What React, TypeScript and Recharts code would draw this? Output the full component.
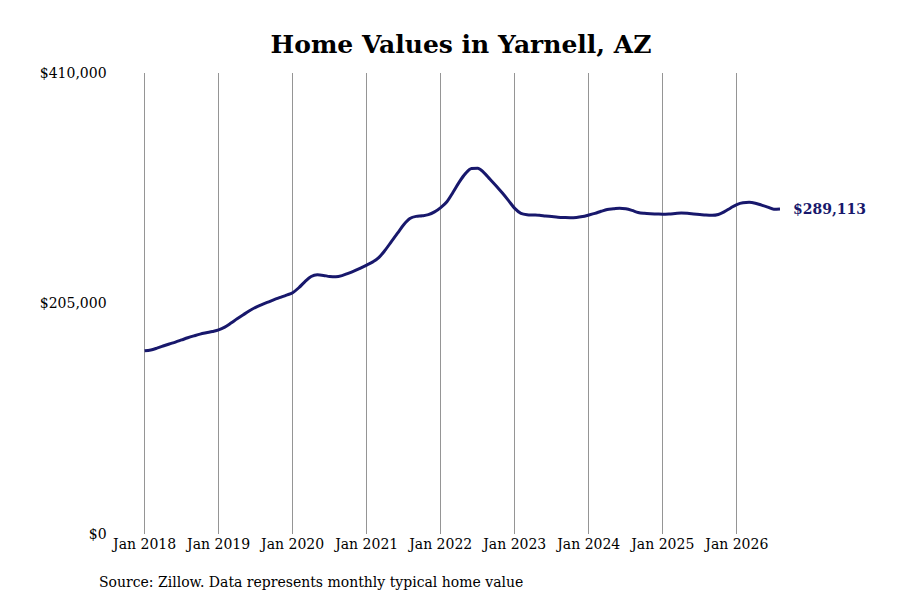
import { LineChart, Line, XAxis, YAxis, ReferenceLine } from "recharts";

// Typical home value, one array per year (Jan..Dec), 2026 through Aug
const START_YEAR = 2018;
const values2018 = [163000, 163700, 165300, 167200, 169000, 170700, 172600, 174500, 176200, 177800, 179000, 180100];
const values2019 = [181500, 184000, 187600, 191400, 195000, 198500, 201600, 204000, 206200, 208400, 210400, 212400];
const values2020 = [214600, 219000, 224500, 229000, 230500, 230000, 229000, 228800, 229800, 231800, 234000, 236500];
const values2021 = [239200, 242000, 246000, 252500, 260000, 267500, 275000, 280500, 282500, 283000, 284000, 286500];
const values2022 = [290300, 295500, 304000, 313000, 320500, 325000, 325300, 321500, 315500, 309500, 303200, 296500];
const values2023 = [289600, 285200, 284000, 283700, 283400, 282800, 282300, 281800, 281500, 281300, 281500, 282300];
const values2024 = [283700, 285200, 287000, 288600, 289200, 289800, 289200, 287800, 286000, 285200, 284800, 284600];
const values2025 = [284400, 284600, 285000, 285400, 285200, 284700, 284200, 283700, 283500, 284200, 286700, 290000];
const values2026 = [293000, 294600, 295000, 294200, 292500, 290700, 288900, 289113];

const yearTicks = [0, 12, 24, 36, 48, 60, 72, 84, 96];
const valueTicks = [0, 205000, 410000];

const allValues = [
  ...values2018, ...values2019, ...values2020, ...values2021, ...values2022,
  ...values2023, ...values2024, ...values2025, ...values2026,
];
const data = allValues.map((value, t) => ({ t, value }));
const lastIndex = data.length - 1;

const LINE_COLOR = "#18186c";
const GRID_COLOR = "#959595";
const FONT = "'DejaVu Serif', serif";

const money = (v: number) => "$" + v.toLocaleString("en-US");

function EndLabel(props: any) {
  const { x, y, index, value } = props;
  if (index !== lastIndex) return null;
  return (
    <text x={x + 13} y={y} dy="0.35em" fontFamily={FONT} fontSize={14} fontWeight={700} fill={LINE_COLOR}>
      {money(value)}
    </text>
  );
}

export default function App() {
  return (
    <div style={{ position: "absolute", left: 0, top: 0, width: 900, height: 600, background: "#fff", fontFamily: FONT }}>
      <div
        style={{
          position: "absolute",
          left: 461,
          top: 44,
          transform: "translate(-50%, -50%)",
          fontSize: 25,
          fontWeight: 700,
          whiteSpace: "nowrap",
          color: "#000",
        }}
      >
        Home Values in Yarnell, AZ
      </div>
      <LineChart width={900} height={600} data={data} margin={{ top: 73, right: 120, bottom: 36, left: 44.6 }}>
        <XAxis
          dataKey="t"
          type="number"
          domain={[0, lastIndex]}
          ticks={yearTicks}
          tickFormatter={(v: number) => `Jan ${START_YEAR + v / 12}`}
          axisLine={false}
          tickLine={false}
          tickSize={0}
          tickMargin={5}
          height={30}
          tick={{ fontSize: 14, fill: "#000", fontFamily: FONT }}
        />
        <YAxis
          domain={[0, 410000]}
          ticks={valueTicks}
          tickFormatter={money}
          axisLine={false}
          tickLine={false}
          tickSize={30}
          tickMargin={8}
          width={100}
          tick={{ fontSize: 14, fill: "#000", fontFamily: FONT }}
        />
        {yearTicks.map((t) => (
          <ReferenceLine key={t} x={t} stroke={GRID_COLOR} strokeWidth={1} shapeRendering="crispEdges" />
        ))}
        <Line
          type="monotone"
          dataKey="value"
          stroke={LINE_COLOR}
          strokeWidth={3}
          dot={false}
          label={<EndLabel />}
          isAnimationActive={false}
        />
      </LineChart>
      <div style={{ position: "absolute", left: 99, top: 582, transform: "translateY(-50%)", fontSize: 14, whiteSpace: "nowrap", color: "#000" }}>
        Source: Zillow. Data represents monthly typical home value
      </div>
    </div>
  );
}
